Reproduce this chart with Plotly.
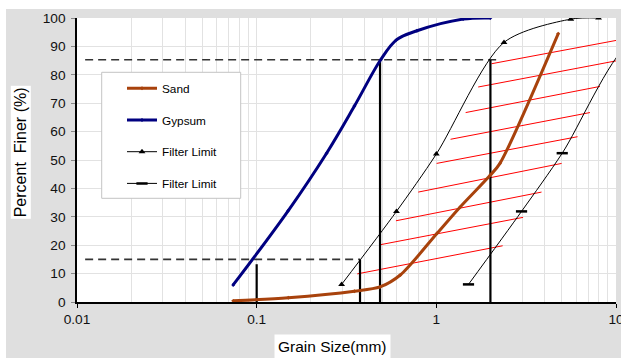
import plotly.graph_objects as go

# ---------------- data ----------------
sand_x = [0.074, 0.15, 0.35, 0.486, 0.63, 1.01, 1.35, 2.0, 2.26, 4.77]
sand_y = [0.4, 1.5, 3.8, 5.3, 9.5, 24.2, 33.3, 44.7, 48.8, 94.5]

gypsum_x = [0.074, 0.15, 0.245, 0.35, 0.49, 0.60, 0.78, 1.41, 2.0]
gypsum_y = [6.0, 32.2, 52.4, 69.0, 85.3, 92.3, 95.5, 99.6, 100.0]

filter1_x = [0.297, 0.60, 1.0, 2.38, 5.6, 8.0]
filter1_y = [6.2, 31.9, 52.1, 91.4, 99.6, 100.0]

filter2_x = [1.51, 2.98, 5.02, 11.9, 28.0, 40.0]
filter2_y = [6.2, 31.9, 52.4, 91.4, 99.6, 100.0]

# red hatch segments (start x, start y, end x, end y)
hatch_x0 = [2.03, 1.71, 1.456, 1.20, 1.004, 0.793, 0.596, 0.481, 0.363]
hatch_y0 = [83.9, 75.7, 66.7, 57.3, 48.8, 38.7, 28.6, 20.1, 9.9]
hatch_x1 = [10.0, 10.0, 8.14, 7.16, 6.11, 4.98, 3.85, 3.04, 2.34]
hatch_y1 = [92.1, 84.9, 75.9, 66.7, 58.2, 48.8, 38.7, 29.8, 19.8]

# dashed guide lines (D85 and D15 levels)
guide_level = [85.3, 15.0]
guide_x_start = [0.0111, 0.0111]
guide_x_end = [2.16, 0.376]

# vertical marker lines (x position, top value)
vline_x = [0.1, 0.376, 0.486, 2.0]
vline_top = [13.3, 15.0, 85.3, 85.3]

x_tickvals = [0.01, 0.1, 1, 10]
x_ticktext = ["0.01", "0.1", "1", "10"]
y_tickvals = [0, 10, 20, 30, 40, 50, 60, 70, 80, 90, 100]

FONT = "Liberation Sans, Arial, sans-serif"

fig = go.Figure()

# red hatch lines
hx, hy = [], []
for a, b, c, d in zip(hatch_x0, hatch_y0, hatch_x1, hatch_y1):
    hx += [a, c, None]
    hy += [b, d, None]
fig.add_trace(go.Scatter(x=hx, y=hy, mode="lines", line=dict(color="#ff0000", width=1),
                         showlegend=False, hoverinfo="skip"))

# dashed guides
gx, gy = [], []
for lv, xs, xe in zip(guide_level, guide_x_start, guide_x_end):
    gx += [xs, xe, None]
    gy += [lv, lv, None]
fig.add_trace(go.Scatter(x=gx, y=gy, mode="lines",
                         line=dict(color="#333333", width=1.6, dash="8px,5px"),
                         showlegend=False, hoverinfo="skip"))

# vertical lines
vx, vy = [], []
for xv, top in zip(vline_x, vline_top):
    vx += [xv, xv, None]
    vy += [0, top, None]
fig.add_trace(go.Scatter(x=vx, y=vy, mode="lines", line=dict(color="black", width=2.2),
                         showlegend=False, hoverinfo="skip"))

# filter limits
fig.add_trace(go.Scatter(x=filter1_x, y=filter1_y, mode="lines+markers", name="Filter Limit",
                         line=dict(color="black", width=1, shape="spline", smoothing=0.8),
                         marker=dict(symbol="triangle-up", size=6, color="black"),
                         legendgroup="g3", legendrank=3))
fig.add_trace(go.Scatter(x=filter2_x, y=filter2_y, mode="lines+markers", name="Filter Limit",
                         line=dict(color="black", width=1, shape="spline", smoothing=0.8),
                         marker=dict(symbol="line-ew", size=8, color="black",
                                     line=dict(color="black", width=2.5)),
                         legendgroup="g4", legendrank=4))

# gypsum
fig.add_trace(go.Scatter(x=gypsum_x, y=gypsum_y, mode="lines+markers", name="Gypsum",
                         line=dict(color="#000080", width=3, shape="spline", smoothing=1.0),
                         marker=dict(symbol="diamond", size=3, color="#000080"),
                         legendgroup="g2", legendrank=2))

# sand
fig.add_trace(go.Scatter(x=sand_x, y=sand_y, mode="lines+markers", name="Sand",
                         line=dict(color="#A8420C", width=3, shape="spline", smoothing=0.8),
                         marker=dict(symbol="diamond", size=3, color="#A8420C"),
                         legendgroup="g1", legendrank=1))

W, H = 621, 358
L, R, T, B = 77, 5, 18, 56
pw, ph = W - L - R, H - T - B


def px_x(p):
    return (p - L) / pw


def px_y(p):
    return (H - B - p) / ph


shapes = [
    # white strips outside the grey chart frame
    dict(type="rect", xref="paper", yref="paper", x0=px_x(0), x1=px_x(W), y0=px_y(9), y1=px_y(0),
         fillcolor="white", line=dict(width=0), layer="below"),
    dict(type="rect", xref="paper", yref="paper", x0=px_x(0), x1=px_x(6), y0=px_y(H), y1=px_y(0),
         fillcolor="white", line=dict(width=0), layer="below"),
    # legend frame
    dict(type="rect", xref="paper", yref="paper", x0=px_x(101.7), x1=px_x(240.7),
         y0=px_y(198.3), y1=px_y(72.3), fillcolor="white",
         line=dict(color="#c4c4c4", width=1), layer="above"),
]

annotations = [
    dict(text="Percent\u00a0 Finer (%)", xref="paper", yref="paper", x=px_x(20.3), y=px_y(152),
         xanchor="center", yanchor="middle", textangle=-90, showarrow=False,
         font=dict(family=FONT, size=16, color="black"), bgcolor="white", borderpad=1),
    dict(text="Grain Size(mm)", xref="paper", yref="paper", x=px_x(332.5), y=px_y(346.5),
         xanchor="center", yanchor="middle", showarrow=False,
         font=dict(family=FONT, size=15.5, color="black"), bgcolor="white", borderpad=3),
]

grid = "#e2e2e2"
fig.update_layout(
    width=W, height=H,
    margin=dict(l=L, r=R, t=T, b=B, pad=0, autoexpand=False),
    paper_bgcolor="#dfdfdf",
    plot_bgcolor="white",
    font=dict(family=FONT, color="black"),
    showlegend=True,
    legend=dict(x=px_x(122), y=px_y(73.8), xanchor="left", yanchor="top",
                bgcolor="rgba(0,0,0,0)", borderwidth=0, tracegroupgap=12.7,
                itemwidth=30, traceorder="grouped",
                font=dict(family=FONT, size=11.8, color="black")),
    shapes=shapes,
    annotations=annotations,
    xaxis=dict(type="log", range=[-2, 1], tickvals=x_tickvals, ticktext=x_ticktext,
               automargin=False,
               showgrid=True, gridcolor=grid, gridwidth=1,
               minor=dict(dtick="D1", showgrid=True, gridcolor=grid, gridwidth=1),
               showline=True, linecolor="black", linewidth=1.5,
               ticks="outside", ticklen=4, tickcolor="black",
               ticklabeloverflow="allow",
               tickfont=dict(family=FONT, size=13.7, color="#111111"),
               zeroline=False),
    yaxis=dict(range=[0, 100], tickvals=y_tickvals,
               automargin=False,
               showgrid=True, gridcolor=grid, gridwidth=1,
               showline=True, linecolor="black", linewidth=1.5,
               ticks="outside", ticklen=4, tickcolor="#888888",
               ticklabelstandoff=3,
               tickfont=dict(family=FONT, size=13.7, color="#111111"),
               zeroline=False),
)

fig.write_html("out.html")
